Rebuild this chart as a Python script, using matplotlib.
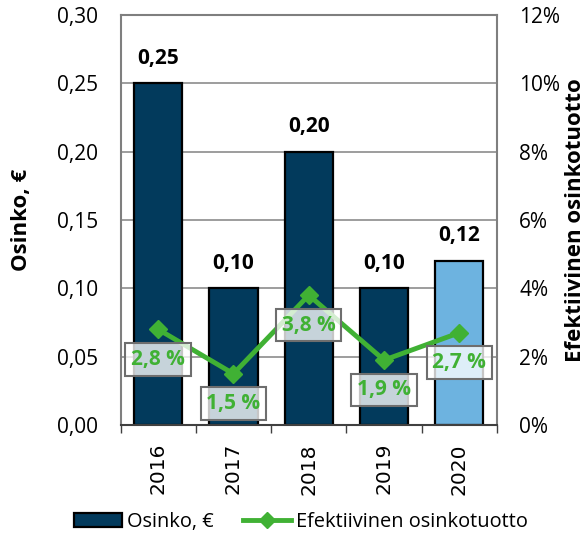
import matplotlib
matplotlib.use('Agg')
import matplotlib.pyplot as plt
from matplotlib.lines import Line2D
from matplotlib.patches import Patch
import numpy as np

plt.rcParams['font.family'] = ['Open Sans', 'DejaVu Sans']

# data
years = ['2016', '2017', '2018', '2019', '2020']
osinko = [0.25, 0.10, 0.20, 0.10, 0.12]
osinko_labels = ['0,25', '0,10', '0,20', '0,10', '0,12']
tuotto = [2.8, 1.5, 3.8, 1.9, 2.7]
tuotto_labels = ['2,8 %', '1,5 %', '3,8 %', '1,9 %', '2,7 %']
left_ticks = ['0,00', '0,05', '0,10', '0,15', '0,20', '0,25', '0,30']
right_ticks = ['0%', '2%', '4%', '6%', '8%', '10%', '12%']

navy = '#023A5C'
light = '#6DB3E0'
green = '#40B134'
grid_c = '#8C8C8C'

fig = plt.figure(figsize=(5.88, 5.35), dpi=100)
ax = fig.add_axes([120.5/588, 110/535, 376.5/588, 410/535])
x = np.arange(len(years))
colors = [navy] * 4 + [light]

ax.set_xlim(-0.5, len(years) - 0.5)
ax.set_ylim(0, 0.30)
ax.set_yticks(np.arange(0, 0.301, 0.05))
ax.set_yticklabels(left_ticks, fontsize=15)
ax.yaxis.grid(True, color=grid_c, lw=1.2)
ax.set_axisbelow(True)
ax.bar(x, osinko, width=0.64, color=colors, edgecolor='black', lw=1.6, zorder=2)
for xi, v, s in zip(x, osinko, osinko_labels):
    ax.annotate(s, (xi, v), xytext=(0, 18), textcoords='offset points',
                ha='center', va='center', fontsize=15, fontweight='bold')

ax.set_xticks(x)
ax.set_xticklabels(years, rotation=90, fontsize=14.5, family='DejaVu Sans')
ax.set_xticks(np.arange(-0.5, len(years)), minor=True)
ax.tick_params(axis='x', which='major', length=0, pad=13)
ax.tick_params(axis='x', which='minor', length=6, color='#404040', width=1)
ax.tick_params(axis='y', length=0, pad=16)
for sp in ax.spines.values():
    sp.set_color('#7F7F7F')
    sp.set_linewidth(1.5)
ax.spines['bottom'].set_color('#404040')
ax.set_ylabel('Osinko, €', fontsize=16, fontweight='bold')
ax.yaxis.set_label_coords(-0.235, 0.5)

ax2 = ax.twinx()
ax2.set_ylim(0, 12)
ax2.set_yticks(np.arange(0, 12.1, 2))
ax2.set_yticklabels(right_ticks, fontsize=15)
ax2.tick_params(axis='y', length=0, pad=16)
for sp in ax2.spines.values():
    sp.set_visible(False)
ax2.plot(x, tuotto, color=green, lw=3.5, marker='D', ms=9, zorder=3)
for xi, v, s in zip(x, tuotto, tuotto_labels):
    ax2.annotate(s, (xi, v), xytext=(0, -21.5), textcoords='offset points',
                 ha='center', va='center', fontsize=15, fontweight='bold', color=green,
                 bbox=dict(boxstyle='square,pad=0.28', fc=(1, 1, 1, 0.78), ec='#6E6E6E', lw=1.5))
ax2.set_ylabel('Efektiivinen osinkotuotto', fontsize=16, fontweight='bold', rotation=90)
ax2.yaxis.set_label_coords(1.181, 0.5)

handles = [Patch(facecolor=navy, edgecolor='black', lw=1.6, label='Osinko, €'),
           Line2D([0], [0], color=green, lw=3.5, marker='D', ms=8,
                  label='Efektiivinen osinkotuotto')]
fig.legend(handles=handles, loc='center', bbox_to_anchor=(0.512, 0.024), ncol=2,
           frameon=False, fontsize=14.4, handlelength=2.4, handletextpad=0.26,
           columnspacing=1.44)

fig.savefig('out.png', dpi=100)
